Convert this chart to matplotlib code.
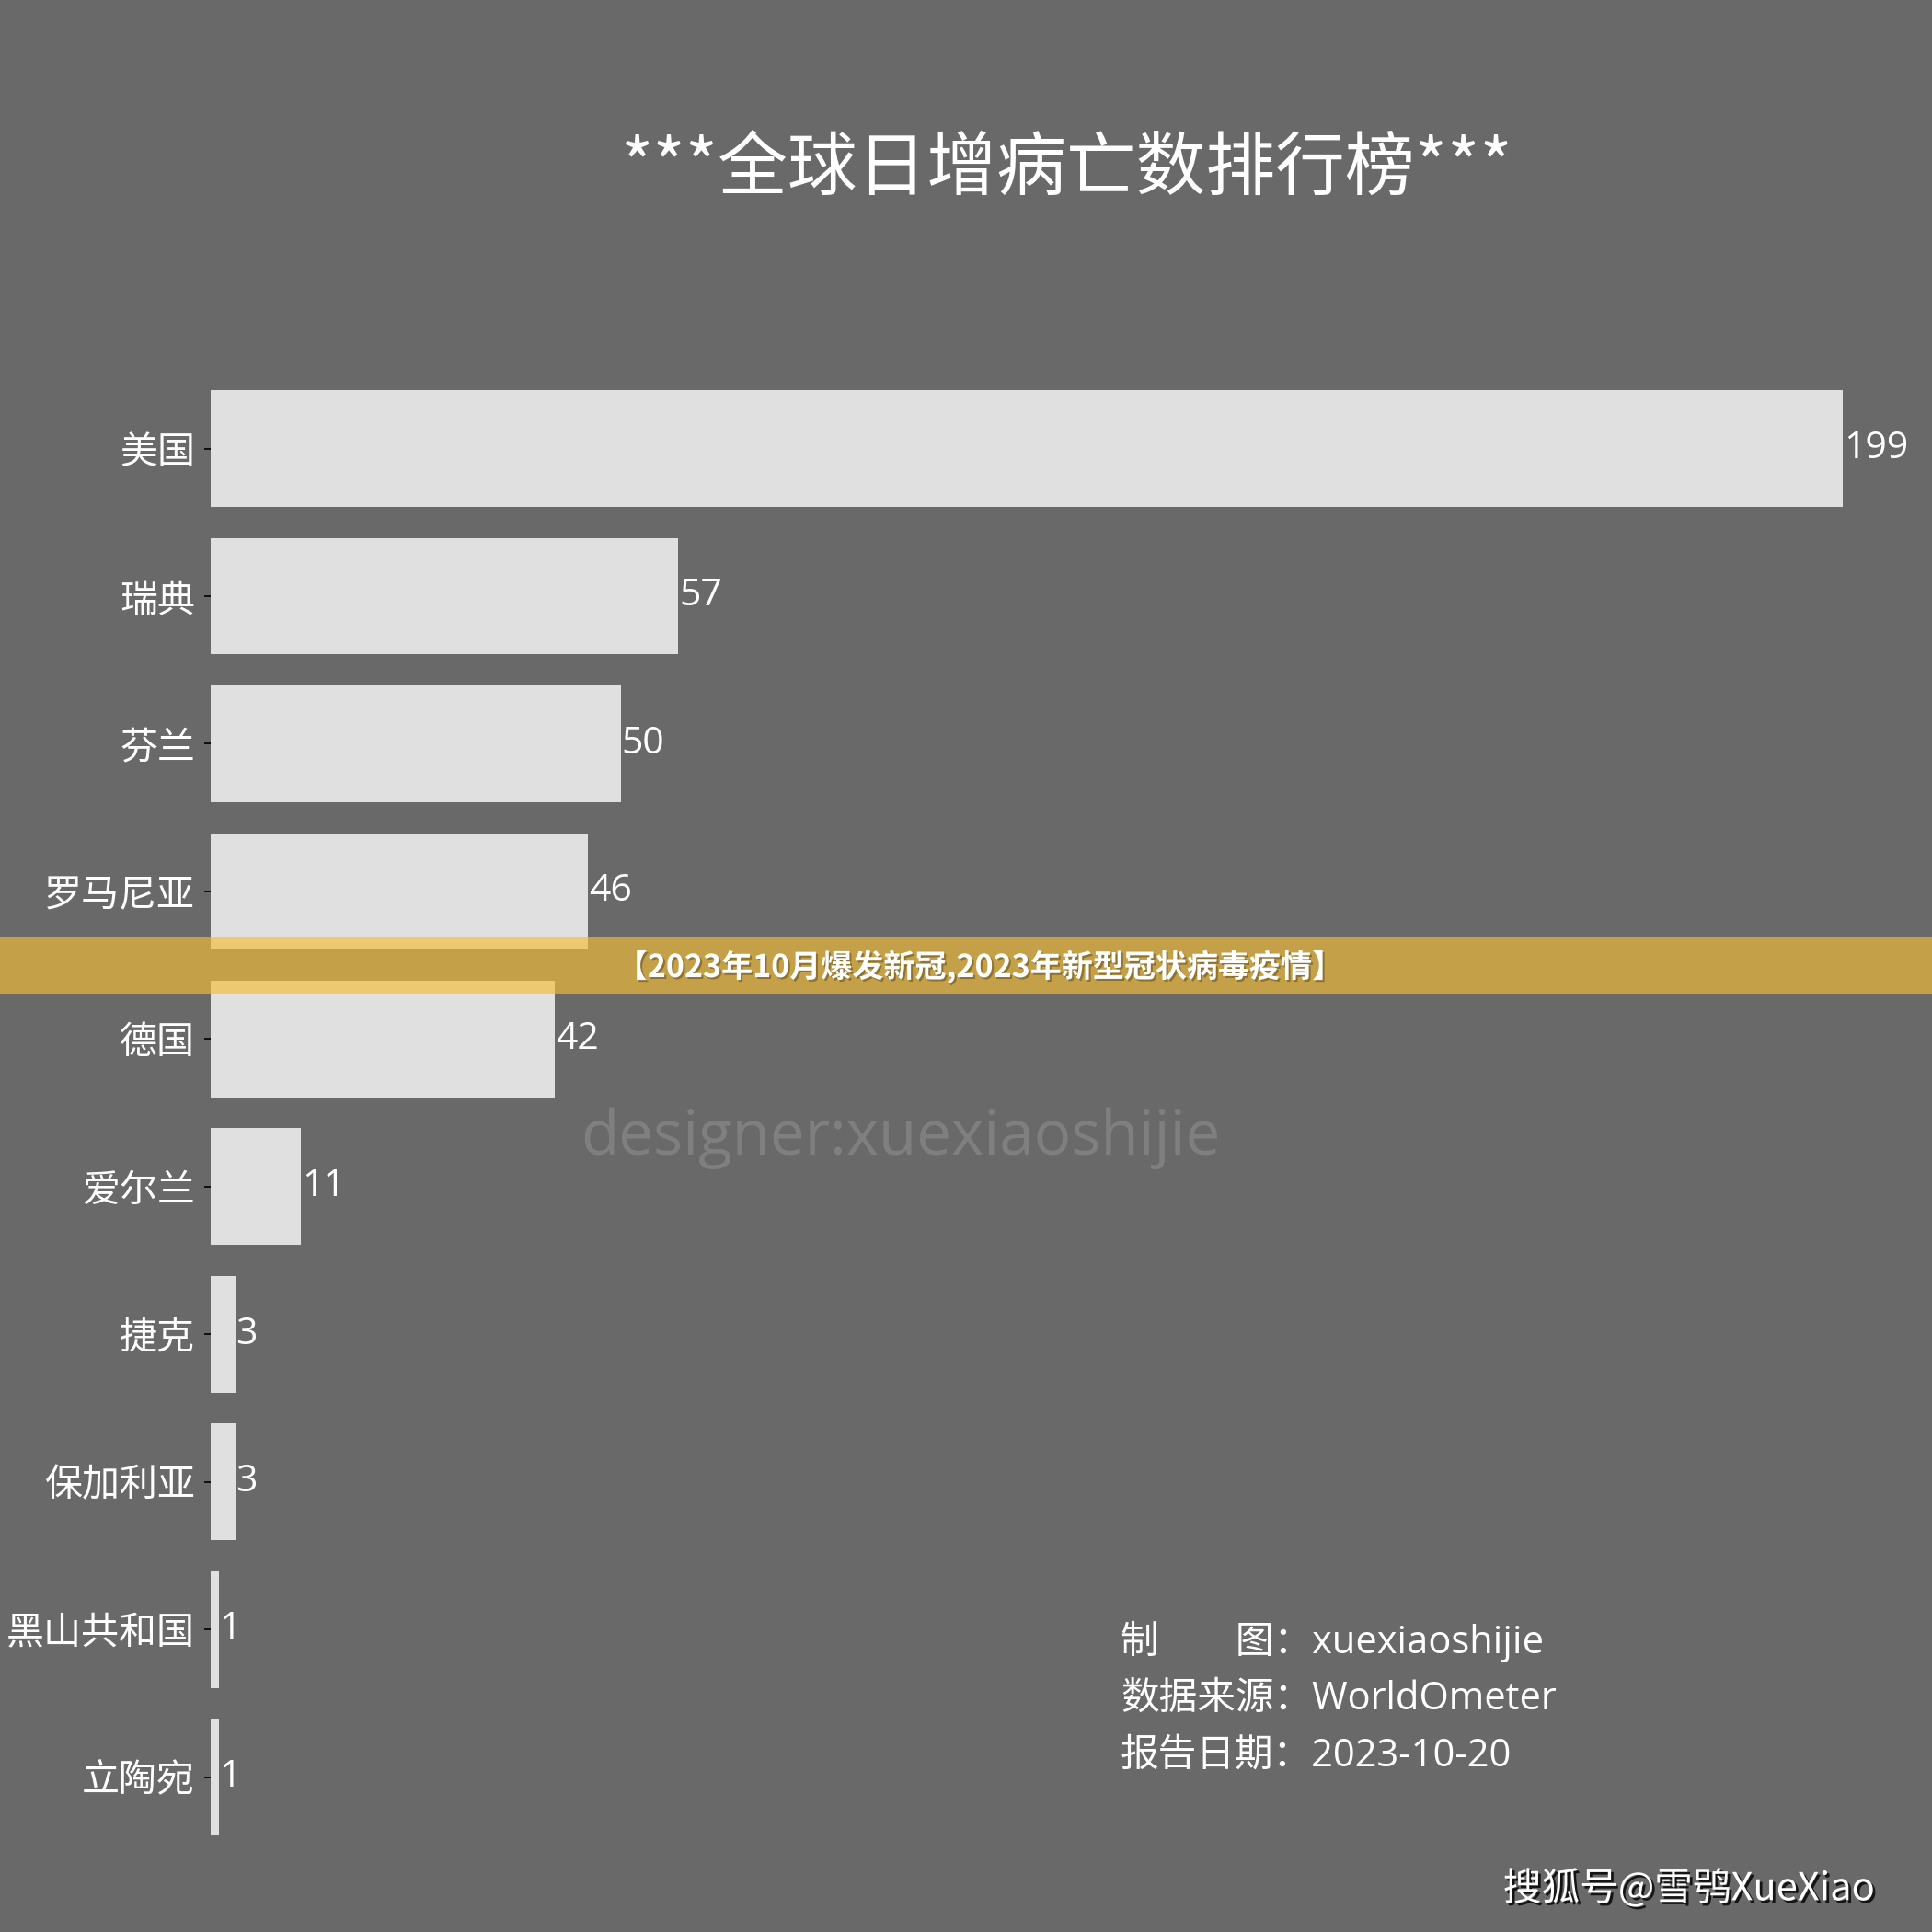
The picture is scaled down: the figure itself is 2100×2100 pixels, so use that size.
import matplotlib
matplotlib.use('Agg')
import matplotlib.pyplot as plt
import matplotlib.patheffects as pe
from matplotlib.patches import Rectangle

plt.rcParams['font.family'] = ['Open Sans', 'Noto Sans CJK SC', 'DejaVu Sans']

# 各国日增病亡数
countries = ['美国', '瑞典', '芬兰', '罗马尼亚', '德国', '爱尔兰', '捷克', '保加利亚', '黑山共和国', '立陶宛']
deaths = [199, 57, 50, 46, 42, 11, 3, 3, 1, 1]

title = '***全球日增病亡数排行榜***'
footer_lines = ['制\u3000\u3000图：xuexiaoshijie', '数据来源：WorldOmeter', '报告日期：2023-10-20']
banner = '【2023年10月爆发新冠,2023年新型冠状病毒疫情】'
watermark = 'designer:xuexiaoshijie'
signature = '搜狐号@雪鸮XueXiao'

bg = '#696969'
fig = plt.figure(figsize=(21, 21), dpi=100, facecolor=bg)
ax = fig.add_axes([0.109, 0.042, 0.845, 0.764])
ax.set_facecolor(bg)

y = list(range(len(countries)))
ax.barh(y, deaths, height=0.79, color='#e0e0e0')
for yi, v in zip(y, deaths):
    ax.text(v + 0.1, yi, str(v), va='center', ha='left', fontsize=29.5, color='white')

ax.set_xlim(0, 199)
ax.set_ylim(len(countries) - 0.5, -0.5)
ax.set_yticks(y)
ax.set_yticklabels(countries, fontsize=29.5, color='white',
                   family=['Noto Sans CJK SC', 'DejaVu Sans'])
ax.tick_params(axis='y', length=5, width=1.2, color='black', pad=7)
ax.set_xticks([])
for s in ax.spines.values():
    s.set_visible(False)

fig.text(0.552, 0.912, title, ha='center', va='center', fontsize=54.5, color='white',
         family=['Noto Sans CJK SC', 'DejaVu Sans'])

# 水印
fig.text(0.466, 0.411, watermark, ha='center', va='center', fontsize=48.5, color='#7f7f7f')

# 署名信息
for i, line in enumerate(footer_lines):
    fig.text(0.58, 0.1505 - i * 0.0297, line, ha='left', va='center', fontsize=30, color='white')

# 黄色横幅
fig.add_artist(Rectangle((0, 0.4855), 1, 0.0295, transform=fig.transFigure,
                         facecolor='#f5bf38', alpha=0.655, edgecolor='none', zorder=10))
fig.text(0.507, 0.4995, banner, ha='center', va='center', fontsize=24.5, color='white',
         fontweight='bold', family=['Noto Sans CJK SC', 'DejaVu Sans'], zorder=11,
         path_effects=[pe.withSimplePatchShadow(offset=(1.5, -1.5), shadow_rgbFace='#6b5520', alpha=0.6)])

fig.text(0.778, 0.0224, signature, ha='left', va='center', fontsize=30, color='white',
         family=['Noto Sans CJK SC', 'DejaVu Sans'],
         path_effects=[pe.withSimplePatchShadow(offset=(2, -2), shadow_rgbFace='black', alpha=0.8)])

fig.savefig('out.png', dpi=100, facecolor=bg)
